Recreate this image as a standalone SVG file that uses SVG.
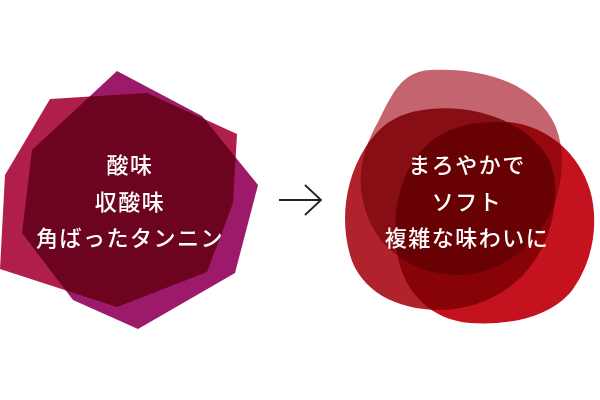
<svg xmlns="http://www.w3.org/2000/svg" width="600" height="400" viewBox="0 0 600 400">
  <style>
    .blend { mix-blend-mode: multiply; }
    .label { font-family: "Noto Sans CJK JP", "Noto Sans", sans-serif; font-size: 22px; font-weight: 500; fill: #ffffff; text-anchor: middle; letter-spacing: 1.5px; }
    .conn { fill: none; stroke: #222222; stroke-width: 1.8; stroke-linecap: butt; stroke-linejoin: miter; }
  </style>
  <rect width="600" height="400" fill="#ffffff"/>
  <g id="before">
    <polygon class="blend" fill="#b01e4b" points="50,99 147,93 237,134 233,203 207,272 117,307 0,269 5,175"/>
    <polygon class="blend" fill="#9c1a69" points="117,71 202,116 258,185 235,273 138,329 73,300 22,233 32,150"/>
    <text class="label" x="130" y="173">酸味</text>
    <text class="label" x="130" y="210">収酸味</text>
    <text class="label" x="130" y="246">角ばったタンニン</text>
  </g>
  <g id="after">
    <path class="blend" fill="#c4646f" d="M430,70 C480,67 535,82 555,125 C568,155 562,200 542,228 C520,258 490,276 455,275 C415,274 378,250 366,212 C355,180 362,150 378,122 C392,95 400,72 430,70 Z"/>
    <path class="blend" fill="#b0232d" d="M430,109 C480,104 530,125 548,158 C562,185 555,230 535,260 C515,290 480,310 440,310 C395,310 360,290 350,255 C340,220 345,180 365,148 C382,122 400,112 430,109 Z"/>
    <path class="blend" fill="#c5121f" d="M490,122 C540,118 578,150 590,190 C600,225 592,265 570,293 C545,320 505,325 470,323 C430,320 400,290 396,245 C392,200 405,160 435,138 C455,126 470,123 490,122 Z"/>
    <text class="label" x="467" y="173">まろやかで</text>
    <text class="label" x="467" y="210">ソフト</text>
    <text class="label" x="467" y="246">複雑な味わいに</text>
  </g>
  <g id="connectors">
    <line class="conn" x1="279" y1="200" x2="321" y2="200"/>
    <polyline class="conn" points="305,185 321,200 305,215"/>
  </g>
</svg>
